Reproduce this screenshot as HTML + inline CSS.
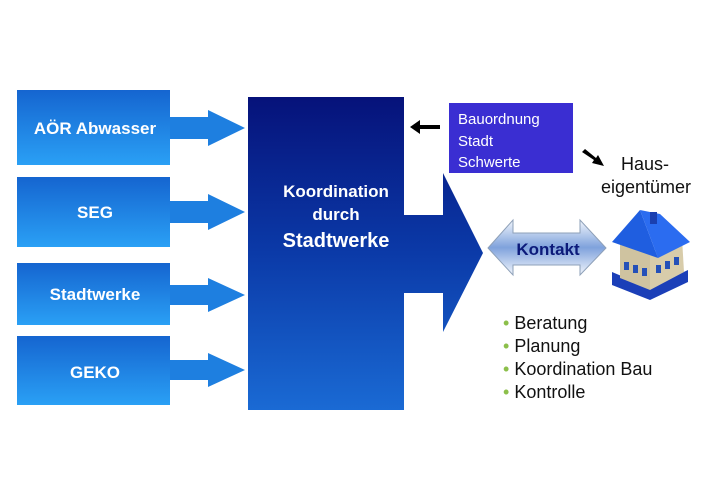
<!DOCTYPE html>
<html><head><meta charset="utf-8"><style>
body{margin:0;width:720px;height:480px;background:#fff;overflow:hidden;font-family:"Liberation Sans",sans-serif}
</style></head><body>
<svg width="720" height="480" viewBox="0 0 720 480" xmlns="http://www.w3.org/2000/svg" font-family="Liberation Sans, sans-serif">
<defs>
<linearGradient id="lb" x1="0" y1="0" x2="0" y2="1"><stop offset="0" stop-color="#1565d0"/><stop offset="1" stop-color="#2aa0f5"/></linearGradient>
<linearGradient id="bb" x1="0" y1="0" x2="0" y2="1"><stop offset="0" stop-color="#06127a"/><stop offset="0.5" stop-color="#0b3aa8"/><stop offset="1" stop-color="#1a6ad4"/></linearGradient>
<linearGradient id="ka" x1="0" y1="0" x2="0" y2="1"><stop offset="0" stop-color="#f2f6fc"/><stop offset="0.5" stop-color="#7fa2dc"/><stop offset="1" stop-color="#f2f6fc"/></linearGradient>
</defs>
<g fill="url(#lb)">
<rect x="17" y="90" width="153" height="75"/>
<rect x="17" y="177" width="153" height="70"/>
<rect x="17" y="263" width="153" height="62"/>
<rect x="17" y="336" width="153" height="69"/>
</g>
<g fill="#1e7fe0">
<polygon points="170,117 208,117 208,110 245,128 208,146 208,139 170,139"/>
<polygon points="170,201 208,201 208,194 245,212 208,230 208,223 170,223"/>
<polygon points="170,285 208,285 208,278 245,295 208,312 208,305 170,305"/>
<polygon points="170,360 208,360 208,353 245,370 208,387 208,380 170,380"/>
</g>
<g fill="#fff" font-weight="bold" font-size="17" text-anchor="middle">
<text x="95" y="134">AÖR Abwasser</text>
<text x="95" y="218">SEG</text>
<text x="95" y="300">Stadtwerke</text>
<text x="95" y="378">GEKO</text>
</g>
<polygon fill="url(#bb)" points="248,97 404,97 404,215 443,215 443,173 483,253 443,332 443,293 404,293 404,410 248,410"/>
<g fill="#fff" font-weight="bold" text-anchor="middle">
<text x="336" y="197" font-size="17">Koordination</text>
<text x="336" y="220" font-size="17">durch</text>
<text x="336" y="247" font-size="20">Stadtwerke</text>
</g>
<rect x="449" y="103" width="124" height="70" fill="#3a2ed2"/>
<g fill="#fff" font-size="15"><text x="458" y="124">Bauordnung</text><text x="458" y="146">Stadt</text><text x="458" y="167">Schwerte</text></g>
<polygon points="410,127 420,120 420,125 440,125 440,129 420,129 420,134" fill="#000"/>
<polygon points="582,152 585,149 596,158 598,155 604,166 592,163 594,160" fill="#000"/>
<g fill="#111" font-size="18" text-anchor="middle"><text x="645" y="170">Haus-</text><text x="646" y="193">eigentümer</text></g>
<polygon fill="url(#ka)" stroke="#8ea0b8" stroke-width="1" points="488,248 513,220 513,233 580,233 580,220 606,248 580,275 580,265 513,265 513,275"/>
<text x="548" y="255" font-size="17" font-weight="bold" fill="#0c1a7a" text-anchor="middle">Kontakt</text>
<g>
<polygon points="612,285 650,300 688,282 688,270 650,288 612,272" fill="#1b3fb8"/>
<polygon points="620,240 650,255 650,290 620,278" fill="#cfc3a0"/>
<polygon points="650,255 682,238 684,272 650,290" fill="#d8ccaa"/>
<polygon points="612,242 640,210 658,258" fill="#1f5ee0"/>
<polygon points="640,210 660,214 690,242 658,258" fill="#2b6cf0"/>
<rect x="650" y="212" width="7" height="12" fill="#1a3fb0"/>
<g fill="#2450b8"><rect x="624" y="262" width="5" height="8"/><rect x="633" y="265" width="5" height="8"/><rect x="642" y="268" width="5" height="8"/><rect x="656" y="265" width="5" height="8"/><rect x="665" y="261" width="5" height="8"/><rect x="674" y="257" width="5" height="8"/></g>
</g>
<g font-size="18" fill="#111">
<text x="503" y="329"><tspan fill="#8cbf4a">• </tspan>Beratung</text>
<text x="503" y="352"><tspan fill="#8cbf4a">• </tspan>Planung</text>
<text x="503" y="375"><tspan fill="#8cbf4a">• </tspan>Koordination Bau</text>
<text x="503" y="398"><tspan fill="#8cbf4a">• </tspan>Kontrolle</text>
</g>
</svg>
</body></html>
